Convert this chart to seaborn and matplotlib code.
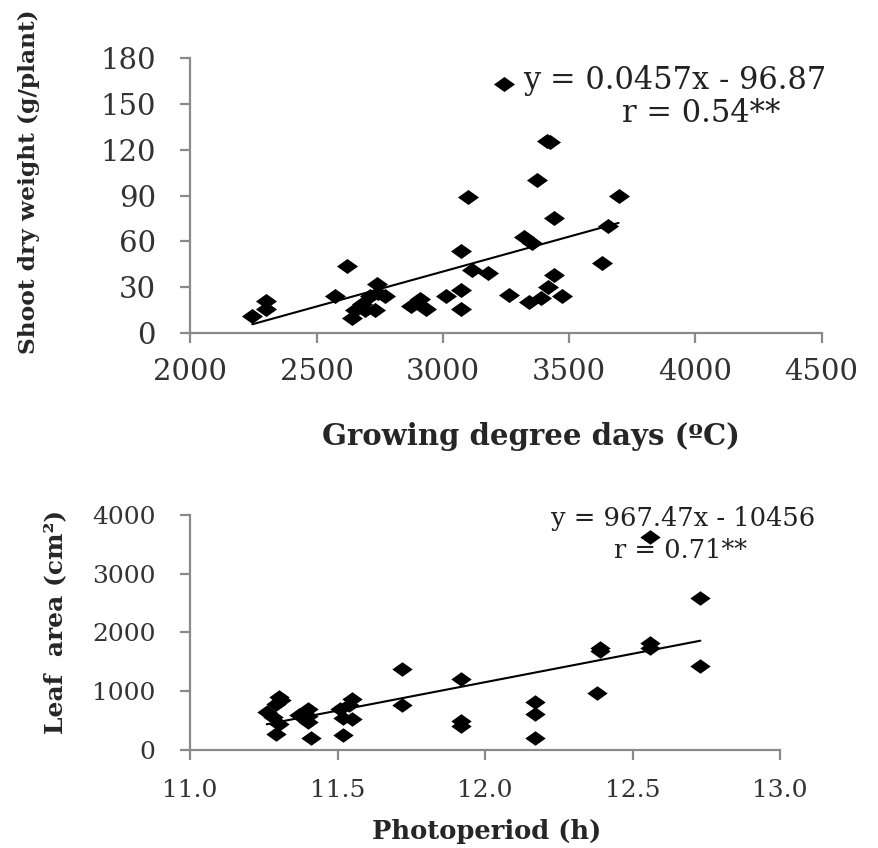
import numpy as np
import pandas as pd
import matplotlib
matplotlib.use("Agg")
import matplotlib.pyplot as plt
import seaborn as sns

# growing degree days vs shoot dry weight
gdd = [3243, 3413, 3425, 3374, 3098, 3696, 3442, 3656, 3322, 3354,
       3070, 3630, 2622, 3114, 3180, 3442, 2740, 3416, 2574, 3262,
       3472, 3013, 3070, 2908, 2298, 2770, 2711, 2678, 3341, 3387,
       2932, 3070, 2245, 2298, 2639, 2731, 2692, 2875, 2744, 2652]
shoot = [163, 126, 125, 100, 89, 90, 75, 70, 63, 59,
         54, 46, 44, 41, 39, 38, 32, 30, 24, 25,
         24, 24, 28, 22, 21, 24, 24, 19, 20, 23,
         15.5, 15.5, 11, 16, 10, 15, 15, 18, 26, 15]
gdd_fit = (0.0457, -96.87)
gdd_ticks = [2000, 2500, 3000, 3500, 4000, 4500]
shoot_ticks = [0, 30, 60, 90, 120, 150, 180]

# photoperiod vs leaf area
photo = [12.56, 12.73, 12.73, 12.56, 12.56, 12.39, 12.39, 12.38, 11.72, 11.72,
         11.92, 11.92, 11.92, 12.17, 12.17, 12.17, 11.26, 11.28, 11.29, 11.30,
         11.31, 11.30, 11.29, 11.40, 11.40, 11.40, 11.41, 11.37, 11.51, 11.52,
         11.52, 11.55, 11.55, 11.54]
leaf = [3630, 2580, 1435, 1816, 1731, 1731, 1680, 965, 1379, 766,
        1203, 499, 414, 822, 613, 210, 650, 560, 780, 900,
        850, 450, 270, 700, 580, 470, 200, 600, 700, 550,
        250, 870, 520, 760]
photo_fit = (967.47, -10456)
photo_ticks = [11.0, 11.5, 12.0, 12.5, 13.0]
photo_ticklabels = ["11.0", "11.5", "12.0", "12.5", "13.0"]
leaf_ticks = [0, 1000, 2000, 3000, 4000]

df1 = pd.DataFrame({"gdd": gdd, "shoot": shoot})
df2 = pd.DataFrame({"photo": photo, "leaf": leaf})

sns.set_style("white")
plt.rcParams["font.family"] = ["DejaVu Serif"]

axis_grey = "#8a8a8a"
text_grey = "#333333"
# wide diamond like the stretched excel markers
diamond = [(-1.4, 0), (0, 1), (1.4, 0), (0, -1), (-1.4, 0)]

fig = plt.figure(figsize=(8.79, 8.48), dpi=100)
ax1 = fig.add_axes([0.2167, 0.6073, 0.7179, 0.3243])
ax2 = fig.add_axes([0.2162, 0.1156, 0.6712, 0.2771])


def style_axis(ax, size, ypad, xpad):
    sns.despine(ax=ax)
    for side in ["left", "bottom"]:
        ax.spines[side].set_color(axis_grey)
        ax.spines[side].set_linewidth(1.6)
    ax.tick_params(axis="both", direction="out", length=7, width=1.6,
                   color=axis_grey, labelcolor=text_grey, labelsize=size,
                   left=True, bottom=True)
    ax.tick_params(axis="y", pad=ypad)
    ax.tick_params(axis="x", pad=xpad)
    ax.grid(False)


# top panel
sns.scatterplot(data=df1, x="gdd", y="shoot", ax=ax1, marker=diamond,
                s=230, color="black", linewidth=0, zorder=3)
xs = np.array([df1.gdd.min(), df1.gdd.max()])
sns.lineplot(x=xs, y=gdd_fit[0] * xs + gdd_fit[1], ax=ax1,
             color="black", linewidth=1.5, zorder=2)
ax1.set_xlim(gdd_ticks[0], gdd_ticks[-1])
ax1.set_ylim(shoot_ticks[0], shoot_ticks[-1])
ax1.set_xticks(gdd_ticks)
ax1.set_yticks(shoot_ticks)
style_axis(ax1, 21, 18, 11)
ax1.set_xlabel("Growing degree days (ºC)", fontsize=21, fontweight="bold",
               va="center")
ax1.xaxis.set_label_coords(0.54, -0.378)
ax1.set_ylabel("Shoot dry weight (g/plant)", fontsize=16.8, fontweight="bold",
               ha="left", va="center")
ax1.yaxis.set_label_coords(-0.256, -0.075)
ax1.text(0.527, 0.92, "y = 0.0457x - 96.87", transform=ax1.transAxes,
         fontsize=22, ha="left", va="center", color="#222222", zorder=5,
         bbox=dict(facecolor="white", edgecolor="none", pad=4))
ax1.text(0.81, 0.80, "r = 0.54**", transform=ax1.transAxes,
         fontsize=22, ha="center", va="center", color="#222222", zorder=5)

# bottom panel
sns.scatterplot(data=df2, x="photo", y="leaf", ax=ax2, marker=diamond,
                s=215, color="black", linewidth=0, zorder=3)
xs2 = np.array([df2.photo.min(), df2.photo.max()])
sns.lineplot(x=xs2, y=photo_fit[0] * xs2 + photo_fit[1], ax=ax2,
             color="black", linewidth=1.5, zorder=2)
ax2.set_xlim(photo_ticks[0], photo_ticks[-1])
ax2.set_ylim(leaf_ticks[0], leaf_ticks[-1])
ax2.set_xticks(photo_ticks)
ax2.set_xticklabels(photo_ticklabels)
ax2.set_yticks(leaf_ticks)
style_axis(ax2, 18, 18, 14)
ax2.set_xlabel("Photoperiod (h)", fontsize=18.5, fontweight="bold",
               va="center")
ax2.xaxis.set_label_coords(0.502, -0.349)
ax2.set_ylabel("Leaf  area (cm²)", fontsize=18, fontweight="bold")
ax2.yaxis.set_label_coords(-0.229, 0.545)
ax2.yaxis.label.set_va("center")
ax2.text(0.836, 0.987, "y = 967.47x - 10456", transform=ax2.transAxes,
         fontsize=18.5, ha="center", va="center", color="#222222")
ax2.text(0.832, 0.847, "r = 0.71**", transform=ax2.transAxes,
         fontsize=18.5, ha="center", va="center", color="#222222")

fig.savefig("out.png", dpi=100, facecolor="white")
